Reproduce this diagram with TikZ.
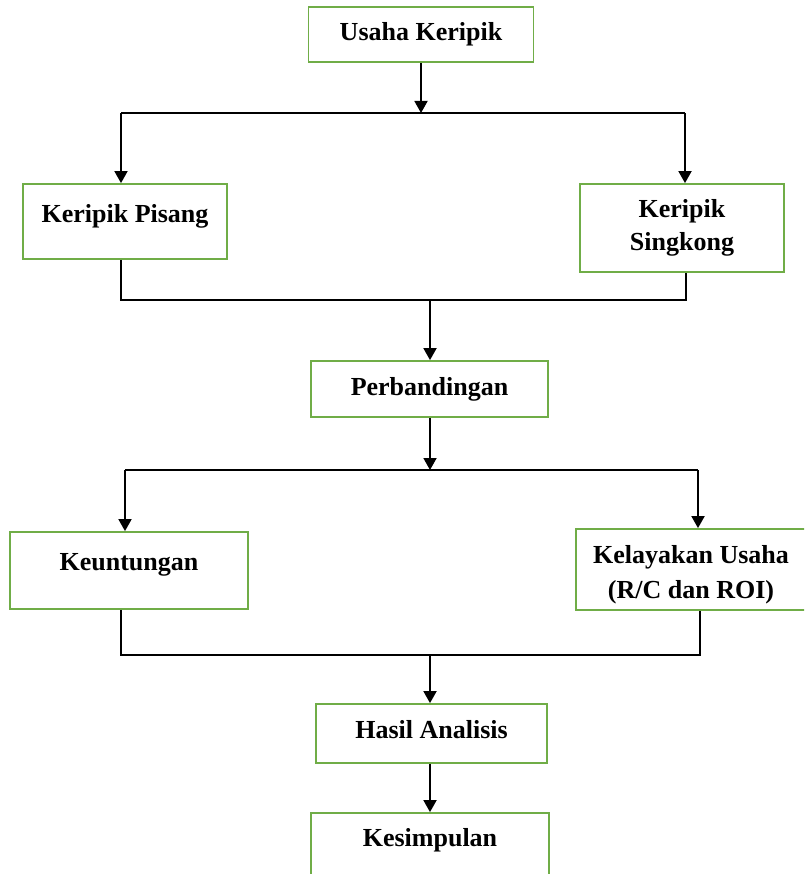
\documentclass[tikz,border=0pt]{standalone}
\usepackage{fontspec}
\setmainfont{Liberation Serif}
\usepackage{tikz}
\usetikzlibrary{arrows.meta, positioning}

\definecolor{boxgreen}{RGB}{112,173,71}

\begin{document}
\begin{tikzpicture}[x=1pt, y=-1pt,
    box/.style={draw=boxgreen, line width=1.8pt, rectangle, align=center, inner sep=0pt,
        font=\fontsize{26}{33}\selectfont\bfseries},
    line/.style={draw=black, line width=1.8pt},
    arrow/.style={line, -{Triangle[length=12pt, width=13pt]}}]
    \clip (0,0) rectangle (804,874);

    \node[box, minimum width=225, minimum height=55] (usaha) at (421,34.5) {Usaha Keripik};
    \node[box, minimum width=204, minimum height=75, text depth=17pt] (pisang) at (125,221.5) {Keripik Pisang};
    \node[box, minimum width=204, minimum height=88] (singkong) at (682,228) {Keripik\\Singkong};
    \node[box, minimum width=237, minimum height=56] (banding) at (429.5,389) {Perbandingan};
    \node[box, minimum width=238, minimum height=77, text depth=17pt] (untung) at (129,570.5) {Keuntungan};
    \node[box, minimum width=230, minimum height=81, text height=63pt,
        font=\fontsize{26}{35}\selectfont\bfseries] (layak) at (691,569.5) {Kelayakan Usaha\\(R/C dan ROI)};
    \node[box, minimum width=231, minimum height=59, text depth=9pt] (hasil) at (431.5,733.5) {Hasil Analisis};
    \node[box, minimum width=238, minimum height=72, text depth=23pt] (simpul) at (430,849) {Kesimpulan};

    \coordinate (bagi1l) at (121,113);
    \coordinate (bagi1r) at (685,113);
    \draw[arrow] (usaha) -- (usaha |- bagi1l);
    \draw[line] (bagi1l) -- (bagi1r);
    \draw[arrow] (bagi1l) -- (bagi1l |- pisang.north);
    \draw[arrow] (bagi1r) -- (bagi1r |- singkong.north);

    \coordinate (gabung1l) at (121,300);
    \coordinate (gabung1r) at (686,300);
    \coordinate (gabung1) at (430,300);
    \draw[line] (gabung1l |- pisang.south) -- (gabung1l) -- (gabung1r) -- (gabung1r |- singkong.south);
    \draw[arrow] (gabung1) -- (gabung1 |- banding.north);

    \coordinate (bagi2) at (430,470);
    \coordinate (bagi2l) at (125,470);
    \coordinate (bagi2r) at (698,470);
    \draw[arrow] (bagi2 |- banding.south) -- (bagi2);
    \draw[line] (bagi2l) -- (bagi2r);
    \draw[arrow] (bagi2l) -- (bagi2l |- untung.north);
    \draw[arrow] (bagi2r) -- (bagi2r |- layak.north);

    \coordinate (gabung2l) at (121,655);
    \coordinate (gabung2r) at (700,655);
    \coordinate (gabung2) at (430,655);
    \draw[line] (gabung2l |- untung.south) -- (gabung2l) -- (gabung2r) -- (gabung2r |- layak.south);
    \draw[arrow] (gabung2) -- (gabung2 |- hasil.north);

    \draw[arrow] (hasil.south -| gabung2) -- (gabung2 |- simpul.north);

\end{tikzpicture}
\end{document}
